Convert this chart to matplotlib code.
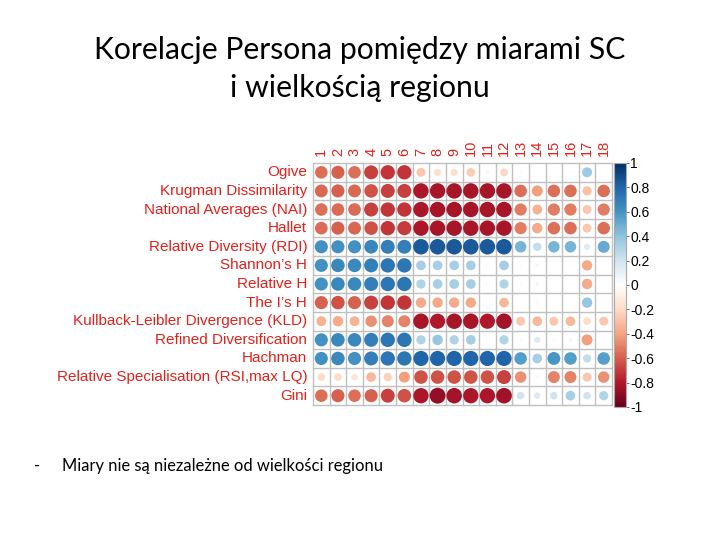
import numpy as np
import matplotlib
matplotlib.use("Agg")
import matplotlib.pyplot as plt
from matplotlib import cm, colors

rows = ["Ogive", "Krugman Dissimilarity", "National Averages (NAI)", "Hallet",
        "Relative Diversity (RDI)", "Shannon’s H", "Relative H", "The I’s H",
        "Kullback-Leibler Divergence (KLD)", "Refined Diversification", "Hachman",
        "Relative Specialisation (RSI,max LQ)", "Gini"]
cols = [str(i) for i in range(1, 19)]

ogive    = [-0.55, -0.60, -0.55, -0.68, -0.72, -0.72, -0.28, -0.18, -0.18, -0.26, 0.05, -0.22, 0.02, 0.00, 0.00, 0.02, 0.35, 0.00]
krugman  = [-0.58, -0.60, -0.58, -0.64, -0.68, -0.68, -0.82, -0.83, -0.83, -0.83, -0.83, -0.83, -0.55, -0.42, -0.55, -0.55, -0.30, -0.55]
nai      = [-0.55, -0.56, -0.56, -0.68, -0.72, -0.72, -0.82, -0.83, -0.83, -0.83, -0.83, -0.83, -0.52, -0.34, -0.52, -0.52, -0.28, -0.52]
hallet   = [-0.56, -0.60, -0.58, -0.64, -0.72, -0.70, -0.82, -0.83, -0.83, -0.83, -0.83, -0.83, -0.52, -0.38, -0.55, -0.55, -0.28, -0.55]
rdi      = [0.60, 0.60, 0.60, 0.65, 0.68, 0.68, 0.84, 0.84, 0.84, 0.84, 0.84, 0.84, 0.46, 0.24, 0.46, 0.46, 0.14, 0.50]
shannon  = [0.60, 0.64, 0.64, 0.68, 0.72, 0.72, 0.33, 0.33, 0.33, 0.33, 0.02, 0.33, 0.02, 0.05, 0.00, 0.02, -0.38, 0.00]
relh     = [0.60, 0.64, 0.64, 0.68, 0.72, 0.72, 0.30, 0.33, 0.33, 0.33, 0.02, 0.30, 0.02, 0.05, 0.00, 0.02, -0.38, 0.00]
theil    = [-0.60, -0.64, -0.60, -0.68, -0.72, -0.72, -0.38, -0.38, -0.38, -0.38, 0.00, -0.33, 0.00, -0.05, 0.00, 0.00, 0.38, 0.00]
kld      = [-0.34, -0.38, -0.34, -0.46, -0.50, -0.50, -0.83, -0.80, -0.83, -0.83, -0.80, -0.84, -0.28, -0.33, -0.28, -0.33, -0.20, -0.28]
refined  = [0.60, 0.64, 0.64, 0.68, 0.72, 0.72, 0.30, 0.38, 0.30, 0.33, -0.02, 0.30, 0.02, 0.14, 0.02, 0.05, -0.42, 0.02]
hachman  = [0.60, 0.64, 0.60, 0.68, 0.72, 0.72, 0.80, 0.80, 0.80, 0.80, 0.80, 0.80, 0.55, 0.33, 0.58, 0.55, 0.24, 0.55]
rsi      = [-0.20, -0.20, -0.15, -0.33, -0.24, -0.42, -0.64, -0.64, -0.64, -0.64, -0.64, -0.68, -0.46, -0.05, -0.50, -0.50, -0.28, -0.46]
gini     = [-0.55, -0.60, -0.55, -0.60, -0.68, -0.64, -0.82, -0.88, -0.84, -0.82, -0.82, -0.85, 0.20, 0.15, 0.20, 0.33, 0.20, 0.30]

M = np.array([ogive, krugman, nai, hallet, rdi, shannon, relh, theil, kld,
              refined, hachman, rsi, gini])

W, H = 720, 540
fig = plt.figure(figsize=(7.2, 5.4), dpi=100)

gx0, gx1 = 313, 612
gy0, gy1 = 163, 405
ax = fig.add_axes([gx0 / W, 1 - gy1 / H, (gx1 - gx0) / W, (gy1 - gy0) / H])
nr, nc = M.shape
ax.set_xlim(0, nc)
ax.set_ylim(nr, 0)
ax.axis("off")

for i in range(nr + 1):
    ax.plot([0, nc], [i, i], color="#c0c0c0", lw=1.0, zorder=1, clip_on=False)
for j in range(nc + 1):
    ax.plot([j, j], [0, nr], color="#c0c0c0", lw=1.0, zorder=1, clip_on=False)

cellw = (gx1 - gx0) / nc
cellh = (gy1 - gy0) / nr
dmax = min(cellw, cellh) * 1.02
cmap = colors.LinearSegmentedColormap.from_list(
    "corr", ["#67001F", "#B2182B", "#D6604D", "#F4A582", "#FDDBC7", "#FFFFFF",
             "#D1E5F0", "#92C5DE", "#4393C3", "#2166AC", "#053061"], N=200)
norm = colors.Normalize(-1, 1)
ii, jj = np.meshgrid(np.arange(nr), np.arange(nc), indexing="ij")
vals = M.ravel()
diam_pt = np.sqrt(np.abs(vals)) * dmax * 0.72
ax.scatter(jj.ravel() + 0.5, ii.ravel() + 0.5, s=diam_pt ** 2, c=vals,
           cmap=cmap, norm=norm, linewidths=0, zorder=2)

red = "#e3211c"
lab_font = ["Liberation Sans", "DejaVu Sans"]
for i, name in enumerate(rows):
    ax.text(-0.35, i + 0.5, name, ha="right", va="center", fontsize=11,
            color=red, family=lab_font)
for j, name in enumerate(cols):
    ax.text(j + 0.5, -0.35, name, ha="center", va="bottom", rotation=90,
            fontsize=10.5, color=red, family=lab_font)

cax = fig.add_axes([614 / W, 1 - 407 / H, 12 / W, (407 - 163) / H])
cb = fig.colorbar(cm.ScalarMappable(norm=norm, cmap=cmap), cax=cax)
ticks = [-1, -0.8, -0.6, -0.4, -0.2, 0, 0.2, 0.4, 0.6, 0.8, 1]
cb.set_ticks(ticks)
cb.set_ticklabels(["-1", "-0.8", "-0.6", "-0.4", "-0.2", "0", "0.2", "0.4", "0.6", "0.8", "1"])
cb.ax.tick_params(labelsize=10, length=2, width=0.6, color="#555555", pad=1)
for t in cb.ax.get_yticklabels():
    t.set_family(lab_font)
cb.outline.set_edgecolor("#aaaaaa")
cb.outline.set_linewidth(0.8)

tfont = ["Lato", "DejaVu Sans"]
fig.text(360 / W, 1 - 50 / H, "Korelacje Persona pomiędzy miarami SC", ha="center",
         va="center", fontsize=21.7, family=tfont)
fig.text(360 / W, 1 - 88 / H, "i wielkością regionu", ha="center",
         va="center", fontsize=21.7, family=tfont)

fig.text(34 / W, 1 - 466 / H, "-", ha="left", va="center", fontsize=11.9, family=tfont)
fig.text(62 / W, 1 - 466 / H, "Miary nie są niezależne od wielkości regionu", ha="left",
         va="center", fontsize=11.9, family=tfont)

fig.savefig("out.png", dpi=100)
